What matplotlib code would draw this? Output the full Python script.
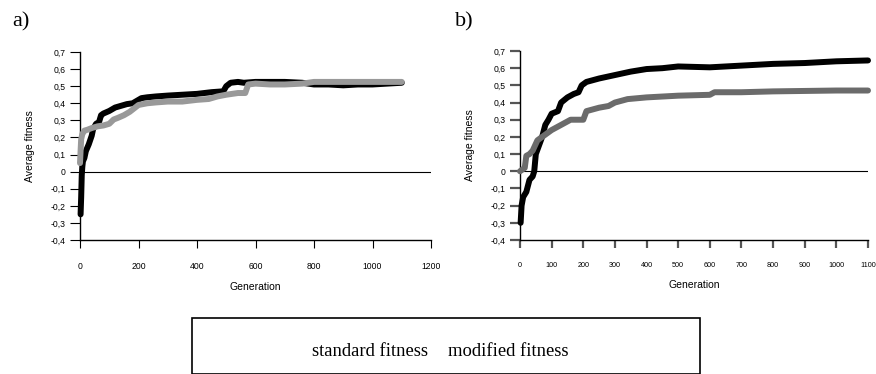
import matplotlib
matplotlib.use("Agg")
import matplotlib.pyplot as plt
from matplotlib import font_manager

# ---------- data ----------
# panel a
a_std_x = [2, 4, 6, 8, 10, 15, 20, 30, 40, 45, 55, 65, 72, 80, 100, 120, 140, 160, 180, 195, 210, 230, 260, 300, 350, 400, 450, 490, 500, 515, 540, 560, 600, 650, 700, 760, 800, 850, 900, 950, 1000, 1050, 1100]
a_std_y = [-0.25, -0.15, -0.02, 0.03, 0.06, 0.08, 0.12, 0.16, 0.21, 0.25, 0.28, 0.29, 0.33, 0.34, 0.355, 0.375, 0.385, 0.395, 0.40, 0.415, 0.43, 0.435, 0.44, 0.445, 0.45, 0.455, 0.465, 0.47, 0.5, 0.52, 0.525, 0.52, 0.525, 0.525, 0.525, 0.52, 0.51, 0.51, 0.505, 0.51, 0.51, 0.515, 0.52]
a_mod_x = [0, 2, 4, 8, 15, 25, 40, 60, 80, 100, 115, 130, 150, 170, 185, 200, 230, 260, 300, 350, 400, 440, 470, 500, 540, 565, 575, 600, 650, 700, 760, 800, 850, 900, 1000, 1100]
a_mod_y = [0.05, 0.12, 0.19, 0.22, 0.24, 0.245, 0.255, 0.265, 0.27, 0.28, 0.305, 0.315, 0.33, 0.35, 0.37, 0.39, 0.40, 0.405, 0.41, 0.41, 0.42, 0.425, 0.44, 0.45, 0.46, 0.46, 0.51, 0.515, 0.51, 0.51, 0.515, 0.525, 0.525, 0.525, 0.525, 0.525]
# panel b
b_std_x = [2, 5, 10, 20, 30, 40, 45, 50, 60, 70, 80, 90, 100, 120, 130, 150, 170, 185, 195, 210, 250, 300, 350, 400, 450, 500, 600, 700, 800, 900, 1000, 1100]
b_std_y = [-0.3, -0.2, -0.15, -0.12, -0.05, -0.03, 0.0, 0.1, 0.15, 0.2, 0.27, 0.3, 0.335, 0.35, 0.4, 0.43, 0.45, 0.46, 0.5, 0.52, 0.54, 0.56, 0.58, 0.595, 0.60, 0.61, 0.605, 0.615, 0.625, 0.63, 0.64, 0.645]
b_mod_x = [0, 15, 20, 30, 40, 55, 70, 100, 130, 160, 200, 210, 250, 280, 300, 340, 400, 500, 600, 615, 700, 800, 1000, 1100]
b_mod_y = [0.0, 0.02, 0.09, 0.10, 0.12, 0.18, 0.20, 0.24, 0.27, 0.30, 0.30, 0.35, 0.37, 0.38, 0.40, 0.42, 0.43, 0.44, 0.445, 0.46, 0.46, 0.465, 0.47, 0.47]

yticks = [-0.4, -0.3, -0.2, -0.1, 0, 0.1, 0.2, 0.3, 0.4, 0.5, 0.6, 0.7]
ytick_labels = ["-0,4", "-0,3", "-0,2", "-0,1", "0", "0,1", "0,2", "0,3", "0,4", "0,5", "0,6", "0,7"]
a_xticks = [0, 200, 400, 600, 800, 1000, 1200]
b_xticks = [0, 100, 200, 300, 400, 500, 600, 700, 800, 900, 1000, 1100]
legend_labels = ["standard fitness", "modified fitness"]

W, H = 876, 374
fig = plt.figure(figsize=(W / 100, H / 100), dpi=100)
sans = ["Liberation Sans", "DejaVu Sans"]
serif = ["Liberation Serif", "DejaVu Serif"]
installed = {f.name for f in font_manager.fontManager.ttflist}
narrow = ["Liberation Sans Narrow"] if "Liberation Sans Narrow" in installed else sans


def px_axes(l, r, t, b):
    return fig.add_axes([l / W, 1 - b / H, (r - l) / W, (b - t) / H])


def style(ax, xmax, xticks, tickcol, tickw, xfam, xfs):
    ax.set_xlim(0, xmax)
    ax.set_ylim(-0.4, 0.7)
    for s in ("top", "right"):
        ax.spines[s].set_visible(False)
    for s in ("left", "bottom"):
        ax.spines[s].set_linewidth(1.0)
    ax.set_yticks(yticks)
    ax.set_yticklabels(ytick_labels, fontsize=6.2, family=sans)
    ax.set_xticks(xticks)
    ax.set_xticklabels([str(v) for v in xticks], fontsize=xfs, family=xfam)
    ax.tick_params(axis="y", direction="out", length=7.5, width=tickw, color=tickcol, pad=3)
    ax.tick_params(axis="x", direction="out", length=6, width=tickw, color=tickcol, pad=10)
    ax.axhline(0, color="black", lw=0.8, zorder=1)
    ax.set_xlabel("Generation", fontsize=7.5, family=sans, labelpad=8)
    ax.set_ylabel("Average fitness", fontsize=7.5, family=sans, labelpad=11)


axa = px_axes(80, 431, 52, 240)
axa.plot(a_std_x, a_std_y, color="black", lw=4.3, solid_capstyle="round", solid_joinstyle="round", zorder=3, clip_on=False)
axa.plot(a_mod_x, a_mod_y, color="#999999", lw=4.3, solid_capstyle="round", solid_joinstyle="round", zorder=4, clip_on=False)
style(axa, 1200, a_xticks, "black", 0.8, sans, 6.2)

axb = px_axes(520, 868, 51, 240)
axb.plot(b_std_x, b_std_y, color="black", lw=4.3, solid_capstyle="round", solid_joinstyle="round", zorder=3, clip_on=False)
axb.plot(b_mod_x, b_mod_y, color="#6b6b6b", lw=4.3, solid_capstyle="round", solid_joinstyle="round", zorder=4, clip_on=False)
style(axb, 1100, b_xticks, "#555555", 1.6, narrow, 5.8 if narrow != sans else 5.2)

fig.text(12 / W, 1 - 22 / H, "a)", fontsize=16, family=serif, va="center", ha="left")
fig.text(455 / W, 1 - 22 / H, "b)", fontsize=16, family=serif, va="center", ha="left")

# legend box
lb = plt.Rectangle((192 / W, 0), (700 - 192) / W, 1 - 318 / H, transform=fig.transFigure,
                   fill=False, edgecolor="black", lw=1.2)
fig.add_artist(lb)
fig.text(312 / W, 1 - 352 / H, legend_labels[0], fontsize=13.4, family=serif, va="center", ha="left")
fig.text(448 / W, 1 - 352 / H, legend_labels[1], fontsize=13.4, family=serif, va="center", ha="left")

fig.savefig("out.png", dpi=100)
